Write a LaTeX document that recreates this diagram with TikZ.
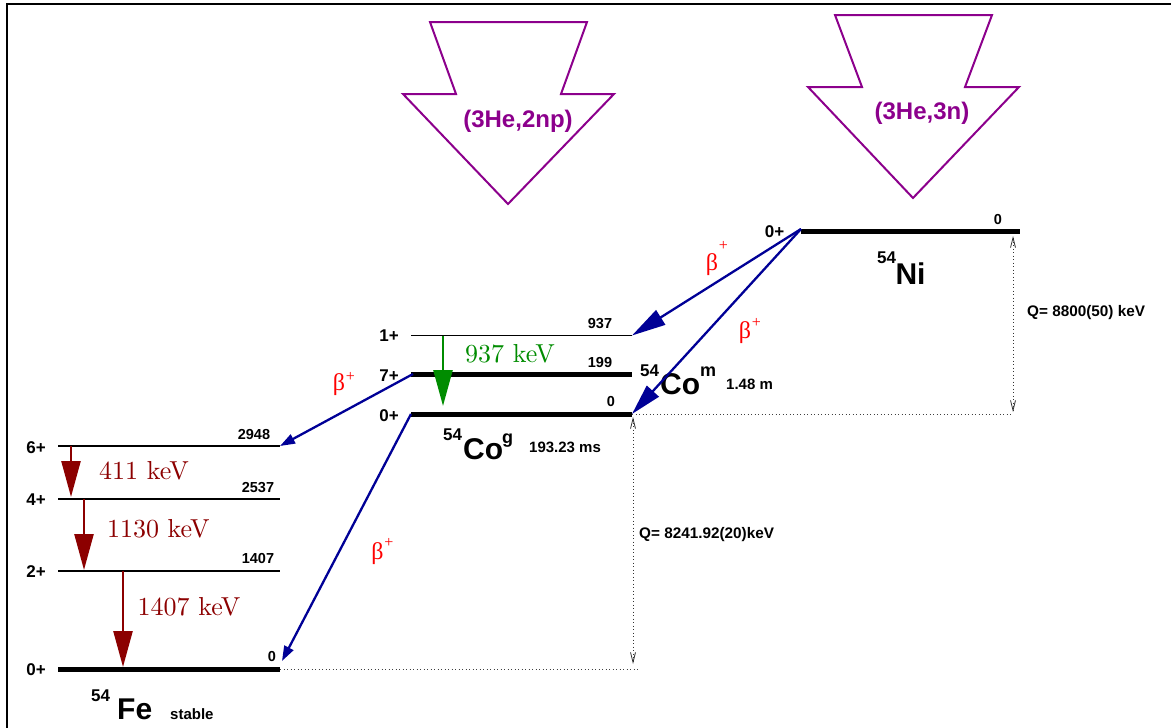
\documentclass[tikz,border=0pt]{standalone}
\usepackage{fontspec}
\setsansfont{Liberation Sans}
\newfontfamily\serifgreek{Liberation Serif}
\newfontfamily\gammafont[Extension=.otf]{lmroman10-regular}
\usetikzlibrary{arrows.meta}

\definecolor{rxn}{RGB}{140,0,140}
\definecolor{decay}{RGB}{0,0,150}
\definecolor{gred}{RGB}{140,0,0}
\definecolor{ggreen}{RGB}{0,140,0}
\definecolor{betared}{RGB}{255,0,0}

\newcommand\setfs[1]{\fontsize{#1}{#1}\selectfont}
% beta-plus label: the node box holds only the beta, the "+" hangs to its upper right
\newcommand\betaplus[1]{{\serifgreek\setfs{24}β}\rlap{\kern0.8pt\raisebox{#1}{\serifgreek\setfs{16}+}}}

\tikzset{
  level thin/.style={line width=1.3pt},
  level thick/.style={line width=5pt},
  spinlab/.style={font=\sffamily\bfseries\setfs{17}, inner sep=0pt},
  enlab/.style={font=\sffamily\bfseries\setfs{14.5}, inner sep=0pt},
  nucl/.style={font=\sffamily\bfseries\setfs{30}, inner sep=0pt, anchor=base west},
  mass/.style={font=\sffamily\bfseries\setfs{17}, inner sep=0pt, anchor=base west},
  info/.style={font=\sffamily\bfseries\setfs{15}, inner sep=0pt, anchor=base west},
  gammalab/.style={font=\gammafont\setfs{26}, inner sep=0pt},
  gammaarr/.style={line width=2.5pt, -{Triangle[length=36pt,width=19pt]}},
  betaarr/.style={draw=decay, line width=2.3pt},
  betalab/.style={text=betared, inner sep=0pt},
  rxnarrow/.style={draw=rxn, line width=2pt, line join=miter},
  rxnlab/.style={text=rxn, font=\sffamily\bfseries\setfs{24}, inner sep=0pt},
  qarrow/.style={line width=0.8pt, dash pattern=on 1pt off 2.5pt,
    {Straight Barb[length=10pt,width=5pt]}-{Straight Barb[length=10pt,width=5pt]}},
  guide/.style={line width=0.8pt, dash pattern=on 1pt off 2.5pt, black!75},
}

\begin{document}
\begin{tikzpicture}[x=1pt,y=-1pt]
\useasboundingbox (0,0) rectangle (1171,728);

% frame
\draw[line width=2pt] (7,728) -- (7,4) -- (1171,4);

% reaction arrows
\draw[rxnarrow] (430,22) -- (587,22) -- (561,94) -- (614,94) -- (508,204) -- (403,94) -- (456,94) -- cycle;
\node[rxnlab] (r1) at (518,121) {(3He,2np)};
\draw[rxnarrow] (835,15) -- (992,15) -- (965,87) -- (1019,87) -- (913,198) -- (808,87) -- (862,87) -- cycle;
\node[rxnlab] (r2) at (922,113) {(3He,3n)};

% level end points
\coordinate (ni0L) at (801,231);  \coordinate (ni0R) at (1020,231);
\coordinate (co1L) at (411,335.5); \coordinate (co1R) at (632,335.5);
\coordinate (co7L) at (411,374);  \coordinate (co7R) at (632,374);
\coordinate (co0L) at (411,414);  \coordinate (co0R) at (632,414);
\coordinate (fe6L) at (58,446);   \coordinate (fe6R) at (280,446);
\coordinate (fe4L) at (58,499);   \coordinate (fe4R) at (280,499);
\coordinate (fe2L) at (58,571);   \coordinate (fe2R) at (280,571);
\coordinate (fe0L) at (58,669);   \coordinate (fe0R) at (280,669);

% levels
\draw[level thick] (ni0L) -- (ni0R);
\draw[level thin]  (co1L) -- (co1R);
\draw[level thick] (co7L) -- (co7R);
\draw[level thick] (co0L) -- (co0R);
\draw[level thin]  (fe6L) -- (fe6R);
\draw[level thin]  (fe4L) -- (fe4R);
\draw[level thin]  (fe2L) -- (fe2R);
\draw[level thick] (fe0L) -- (fe0R);

% spins
\node[spinlab] (sni0) at (774.5,232) {0+};
\node[spinlab] (sco1) at (389,335.5) {1+};
\node[spinlab] (sco7) at (389,376) {7+};
\node[spinlab] (sco0) at (389,415.5) {0+};
\node[spinlab] (sfe6) at (36,448) {6+};
\node[spinlab] (sfe4) at (36,500) {4+};
\node[spinlab] (sfe2) at (36,572) {2+};
\node[spinlab] (sfe0) at (36,670) {0+};

% level energies
\node[enlab] (eni0) at (998,220) {0};
\node[enlab] (eco1) at (600,323.5) {937};
\node[enlab] (eco7) at (600,363) {199};
\node[enlab] (eco0) at (611,402) {0};
\node[enlab] (efe6) at (254,435) {2948};
\node[enlab] (efe4) at (258,487.5) {2537};
\node[enlab] (efe2) at (258,558.5) {1407};
\node[enlab] (efe0) at (272,657) {0};

% nuclide names
\node[mass] (mni) at (877,263.7) {54};
\node[nucl] (nni) at (895.3,284) {Ni};
\node[mass] (mcom) at (640,376) {54};
\node[nucl] (ncom) at (660,394.5) {Co};
\node[mass,font=\sffamily\bfseries\setfs{18}] (xcom) at (700,376) {m};
\node[info] (tcom) at (726,389) {1.48 m};
\node[mass] (mcog) at (443,440) {54};
\node[nucl] (ncog) at (463,459) {Co};
\node[mass,font=\sffamily\bfseries\setfs{18}] (xcog) at (502,443) {g};
\node[info] (tcog) at (529,452.7) {193.23 ms};
\node[mass] (mfe) at (91,701) {54};
\node[nucl] (nfe) at (117,719) {Fe};
\node[info] (tfe) at (170,719) {stable};

% Q values
\coordinate (qniT) at (1013,236); \coordinate (qniB) at (1013,412);
\coordinate (qniE) at (1013,414);
\coordinate (qcoT) at (633,417); \coordinate (qcoB) at (633,664);
\coordinate (qcoE) at (638,669);
\draw[guide] (co0R) -- (qniE);
\draw[guide] (fe0R) -- (qcoE);
\draw[qarrow, black!80] (qniT) -- (qniB);
\draw[qarrow, black!80] (qcoT) -- (qcoB);
\node[info,font=\sffamily\bfseries\setfs{15.3}] (qni) at (1027,316.5) {Q= 8800(50) keV};
\node[info,font=\sffamily\bfseries\setfs{15.3}] (qco) at (639,538.3) {Q= 8241.92(20)keV};

% beta decays
\coordinate (nibeta) at (801,229);
\coordinate (fe0tip) at (282,661);
\coordinate (co7beta) at (413,374);
\draw[betaarr, -{Triangle[length=34pt,width=17pt]}, fill=decay] (nibeta) -- (co1R);
\draw[betaarr, -{Triangle[length=31pt,width=16pt]}, fill=decay] (nibeta) -- (co0R);
\draw[betaarr, -{Triangle[length=15pt,width=10pt]}, fill=decay] (co7beta) -- (fe6R);
\draw[betaarr, -{Triangle[length=15pt,width=10pt]}, fill=decay] (co0L) -- (fe0tip);
\node[betalab] (b1) at (712,259) {\betaplus{20pt}};
\node[betalab] (b2) at (745,331) {\betaplus{11pt}};
\node[betalab] (b3) at (339,384) {\betaplus{9pt}};
\node[betalab] (b4) at (377.5,551.7) {\betaplus{12pt}};

% gamma transitions
\coordinate (g937) at (443,406);
\coordinate (g411s) at (71,446);  \coordinate (g411e) at (71,497);
\coordinate (g1130s) at (84,499); \coordinate (g1130e) at (84,570);
\coordinate (g1407s) at (123,571); \coordinate (g1407e) at (123,667);
\draw[gammaarr, ggreen] (443,335.5) -- (g937);
\draw[gammaarr, gred] (g411s) -- (g411e);
\draw[gammaarr, gred] (g1130s) -- (g1130e);
\draw[gammaarr, gred] (g1407s) -- (g1407e);
\node[gammalab, text=ggreen] (l937) at (510,353.8) {937 keV};
\node[gammalab, text=gred] (l411) at (144,470.8) {411 keV};
\node[gammalab, text=gred] (l1130) at (158.3,529) {1130 keV};
\node[gammalab, text=gred] (l1407) at (189,607) {1407 keV};
\end{tikzpicture}
\end{document}
